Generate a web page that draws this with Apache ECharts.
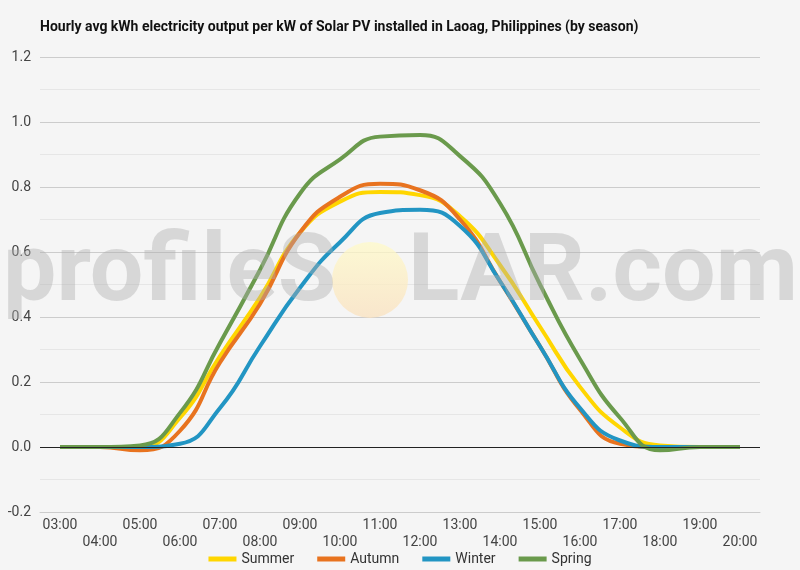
<!DOCTYPE html>
<html>
<head>
<meta charset="utf-8">
<script src="https://cdn.jsdelivr.net/npm/echarts@6/dist/echarts.min.js"></script>
<style>
  html, body { margin: 0; padding: 0; background: #f5f5f5; }
  #chart { width: 800px; height: 570px; }
</style>
</head>
<body>
<div id="chart"></div>
<script>
var hours = ["03:00", "04:00", "05:00", "06:00", "07:00", "08:00", "09:00", "10:00", "11:00",
  "12:00", "13:00", "14:00", "15:00", "16:00", "17:00", "18:00", "19:00", "20:00"];

var summer = [0, 0, 0, 0.09, 0.28, 0.46, 0.66, 0.755, 0.785, 0.775, 0.71, 0.56, 0.37, 0.185, 0.06, 0.005, 0, 0];
var autumn = [0, 0, -0.01, 0.05, 0.26, 0.44, 0.66, 0.77, 0.81, 0.79, 0.70, 0.51, 0.31, 0.115, 0.01, 0, 0, 0];
var winter = [0, 0, 0, 0.01, 0.12, 0.31, 0.49, 0.63, 0.72, 0.73, 0.68, 0.51, 0.31, 0.12, 0.02, 0, 0, 0];
var spring = [0, 0, 0.005, 0.105, 0.32, 0.545, 0.78, 0.885, 0.955, 0.96, 0.895, 0.75, 0.50, 0.27, 0.09, -0.01, 0, 0];

var seasonNames = ["Summer", "Autumn", "Winter", "Spring"];
var seasonColors = ["#ffd600", "#e8731f", "#2295c3", "#6a9a4c"];

var chart = echarts.init(document.getElementById("chart"), null, { renderer: "canvas" });

var seriesData = [summer, autumn, winter, spring];
var series = seriesData.map(function (vals, i) {
  return {
    name: seasonNames[i],
    type: "line",
    data: vals,
    smooth: 0.5,
    symbol: "none",
    lineStyle: { color: seasonColors[i], width: 4 },
    itemStyle: { color: seasonColors[i] },
    z: 2
  };
});

var option = {
  backgroundColor: "#f5f5f5",
  animation: false,
  textStyle: { fontFamily: "Roboto" },
  title: {
    text: "Hourly avg kWh electricity output per kW of Solar PV installed in Laoag, Philippines (by season)",
    left: 40,
    top: 20,
    padding: 0,
    textStyle: { fontFamily: "Roboto", fontSize: 14, fontWeight: "bold", color: "#111" }
  },
  legend: {
    data: seasonNames,
    top: 552,
    left: "center",
    padding: 0,
    icon: "rect",
    itemWidth: 28,
    itemHeight: 5,
    itemGap: 23,
    textStyle: { fontFamily: "Roboto", fontSize: 14, color: "#333", padding: [0, 0, 0, 0] }
  },
  grid: { left: 40, right: 40, top: 57, bottom: 58 },
  xAxis: {
    type: "category",
    data: hours,
    boundaryGap: true,
    axisLine: { show: true, onZero: false, lineStyle: { color: "#ccc" } },
    axisTick: { show: false },
    axisLabel: {
      interval: 0,
      color: "#444",
      fontSize: 14,
      lineHeight: 17,
      margin: 5,
      formatter: function (val, idx) {
        return idx % 2 ? "\n" + val : val;
      }
    }
  },
  yAxis: {
    type: "value",
    min: -0.2,
    max: 1.2,
    interval: 0.2,
    axisLine: { show: false },
    axisTick: { show: false },
    axisLabel: {
      color: "#444",
      fontSize: 14,
      margin: 9,
      formatter: function (v) { return v.toFixed(1); }
    },
    splitLine: { lineStyle: { color: "#cccccc", width: 1 } },
    minorTick: { show: false, splitNumber: 2 },
    minorSplitLine: { show: true, lineStyle: { color: "#e6e6e6", width: 1 } }
  },
  series: series.concat([{
    type: "line",
    data: [],
    markLine: {
      silent: true,
      symbol: ["none", "none"],
      label: { show: false },
      lineStyle: { color: "#222", type: "solid", width: 1 },
      data: [{ yAxis: 0 }]
    }
  }]),
  graphic: [
    {
      type: "circle",
      shape: { cx: 370, cy: 280, r: 38 },
      style: {
        fill: {
          type: "linear", x: 0, y: 0, x2: 0, y2: 1,
          colorStops: [
            { offset: 0, color: "rgba(255,250,200,0.75)" },
            { offset: 1, color: "rgba(250,225,190,0.75)" }
          ]
        }
      },
      z: 100
    },
    {
      type: "text",
      left: 3,
      top: 229,
      style: {
        text: "profileS",
        font: "bold 95px Roboto",
        fill: "rgba(175,175,175,0.42)"
      },
      z: 100
    },
    {
      type: "text",
      left: 408,
      top: 229,
      style: {
        text: "LAR.com",
        font: "bold 95px Roboto",
        fill: "rgba(175,175,175,0.42)"
      },
      z: 100
    }
  ]
};

chart.setOption(option);
</script>
</body>
</html>
